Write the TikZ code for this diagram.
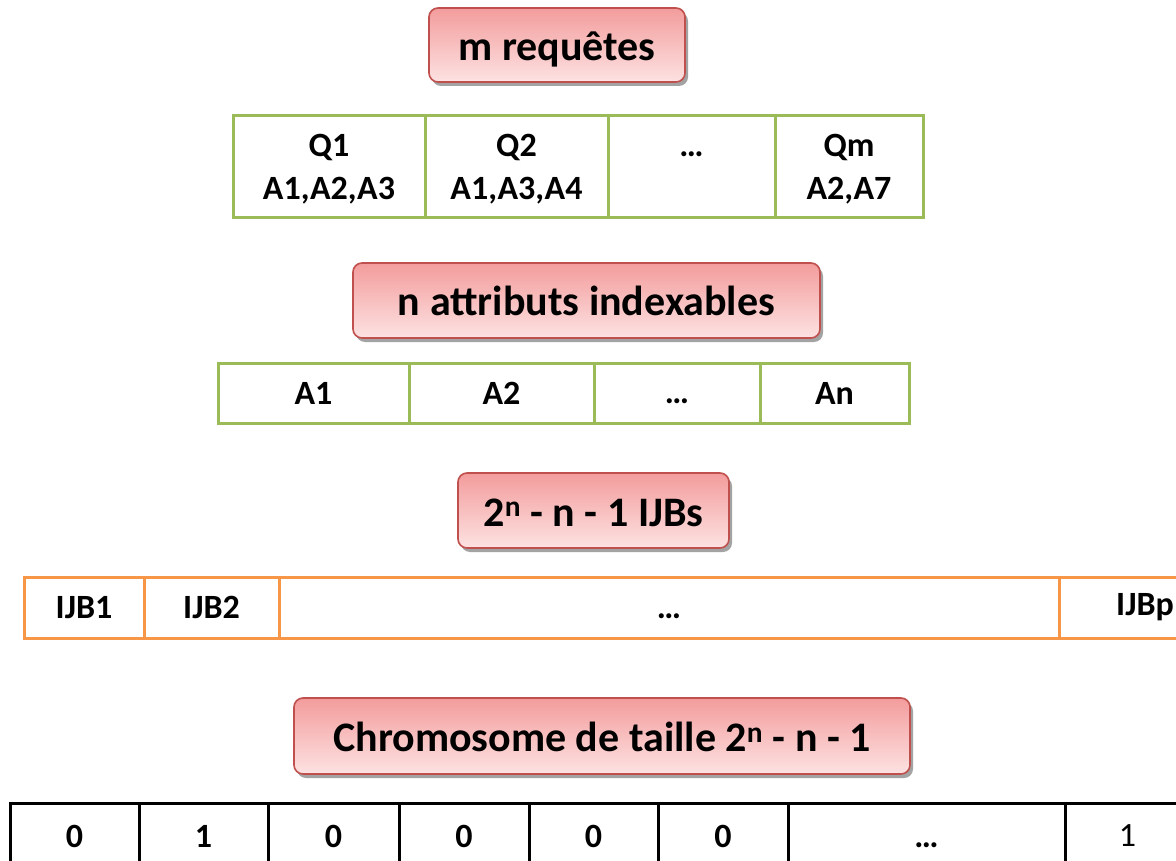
\documentclass[tikz,border=0pt]{standalone}
\usepackage{fontspec}
\setmainfont{Carlito}
\usetikzlibrary{shadows}

\definecolor{lblTop}{RGB}{243,156,156}
\definecolor{lblBot}{RGB}{253,226,226}
\definecolor{lblEdge}{RGB}{192,80,77}
\definecolor{tabGreen}{RGB}{155,187,89}
\definecolor{tabOrange}{RGB}{247,150,70}

\tikzset{
  label box/.style={rounded corners=9pt, draw=lblEdge, line width=1.6pt,
    top color=lblTop, bottom color=lblBot, inner sep=0pt, outer sep=0pt,
    text height=31pt, text depth=0pt,
    font=\fontsize{42}{50}\selectfont\bfseries,
    drop shadow={shadow xshift=3pt, shadow yshift=-4pt, fill=black!45, opacity=0.8}},
  cell/.style={draw, line width=3pt, inner sep=0pt, outer sep=0pt, fill=white,
    align=center, font=\fontsize{34}{43}\selectfont\bfseries},
  green cell/.style={cell, draw=tabGreen},
  query cell/.style={green cell, minimum height=102pt, text depth=-5pt},
  orange cell/.style={cell, draw=tabOrange},
  black cell/.style={cell, draw=black},
}

\begin{document}
\begin{tikzpicture}[x=1pt, y=-1pt]
\clip (0,0) rectangle (1176,861);
\fill[white] (0,0) rectangle (1176,861);

% queries
\node[label box, minimum width=256pt, minimum height=74pt] (lq) at (557,45) {m requêtes};
\node[query cell, minimum width=192pt] (q1) at (329,167) {Q1\\A1,A2,A3};
\node[query cell, minimum width=183pt] (q2) at (516.5,167) {Q2\\A1,A3,A4};
\node[query cell, minimum width=167pt] (qd) at (691.5,167) {\vphantom{Q1}…\\\vphantom{A1,}};
\node[query cell, minimum width=148pt] (qm) at (849,167) {Qm\\A2,A7};

% indexable attributes
\node[label box, minimum width=467pt, minimum height=75pt] (la) at (586.5,300.5) {n attributs indexables};
\node[green cell, minimum width=191pt, minimum height=60pt] (a1) at (313.5,393) {A1};
\node[green cell, minimum width=185pt, minimum height=60pt] (a2) at (501.5,393) {A2};
\node[green cell, minimum width=166pt, minimum height=60pt] (ad) at (677,393) {\vphantom{A1}…};
\node[green cell, minimum width=149pt, minimum height=60pt] (an) at (834.5,393) {An};

% candidate indexes
\node[label box, minimum width=271pt, minimum height=75pt] (li) at (593.5,510.5) {2\textsuperscript{n} - n - 1 IJBs};
\node[orange cell, minimum width=120pt, minimum height=61pt] (i1) at (84,607.5) {IJB1};
\node[orange cell, minimum width=135pt, minimum height=61pt] (i2) at (211.5,607.5) {IJB2};
\node[orange cell, minimum width=780pt, minimum height=61pt] (id) at (669,607.5) {\vphantom{IJB1}…};
\node[orange cell, minimum width=172pt, minimum height=61pt] (ip) at (1145,607.5) {IJBp};

% chromosome
\node[label box, minimum width=616pt, minimum height=76pt] (lc) at (602,736) {Chromosome de taille 2\textsuperscript{n} - n - 1};
\node[black cell, minimum width=129pt, minimum height=66pt] (c1) at (74.5,836) {0};
\node[black cell, minimum width=129pt, minimum height=66pt] (c2) at (203.5,836) {1};
\node[black cell, minimum width=131pt, minimum height=66pt] (c3) at (333.5,836) {0};
\node[black cell, minimum width=130pt, minimum height=66pt] (c4) at (464,836) {0};
\node[black cell, minimum width=129pt, minimum height=66pt] (c5) at (593.5,836) {0};
\node[black cell, minimum width=130pt, minimum height=66pt] (c6) at (723,836) {0};
\node[black cell, minimum width=277pt, minimum height=66pt] (c7) at (926.5,836) {\vphantom{0}…};
\node[black cell, minimum width=125pt, minimum height=66pt, font=\fontsize{34}{43}\selectfont\mdseries] (c8) at (1127.5,836) {1};
\end{tikzpicture}
\end{document}
